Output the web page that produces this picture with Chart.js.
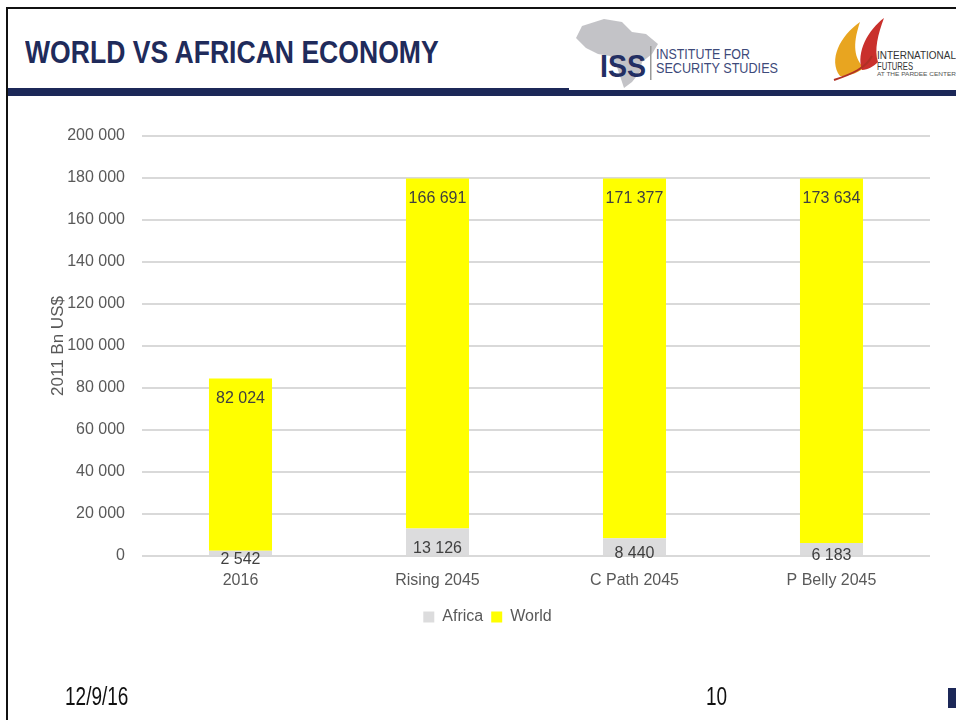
<!DOCTYPE html>
<html lang="en">
<head>
  <meta charset="UTF-8" />
  <title>World vs African Economy</title>
  <script src="https://cdn.jsdelivr.net/npm/chart.js"></script>
  <style>
    html, body { margin: 0; padding: 0; background: #fff; }
    body { width: 956px; height: 720px; position: relative; overflow: hidden;
           font-family: "Liberation Sans", Arial, sans-serif; }
    .border-top { position: absolute; left: 6px; top: 7px; width: 950px; height: 2px; background: #111; }
    .border-left { position: absolute; left: 6px; top: 7px; width: 2px; height: 713px; background: #111; }
    .title { position: absolute; left: 25px; top: 34px; font-size: 32px; font-weight: bold;
             color: #1f2b5b; transform: scaleX(0.83); transform-origin: left top; white-space: nowrap; }
    .bar-a { position: absolute; left: 8px; top: 88px; width: 561px; height: 8px; background: #1c2858; }
    .bar-b { position: absolute; left: 569px; top: 90px; width: 387px; height: 6px; background: #1c2858; }
    .footer-date { position: absolute; left: 65px; top: 682px; font-size: 25px; color: #111;
                   transform: scaleX(0.76); transform-origin: left top; }
    .footer-page { position: absolute; left: 706px; top: 682px; font-size: 25px; color: #111;
                   transform: scaleX(0.76); transform-origin: left top; }
    .corner { position: absolute; left: 948px; top: 688px; width: 8px; height: 20px; background: #1c2858; }
    #logos { position: absolute; left: 570px; top: 10px; }
    #chartBox { position: absolute; left: 0; top: 0; width: 956px; height: 720px; }
  </style>
</head>
<body>

<div class="border-top"></div>
<div class="border-left"></div>
<div class="title">WORLD VS AFRICAN ECONOMY</div>
<div class="bar-a"></div>
<div class="bar-b"></div>

<svg id="logos" width="386" height="78" viewBox="0 0 386 78">
  <!-- rough Africa silhouette -->
  <path d="M12 16 L34 9 L52 12 L62 22 L76 24 L88 34 L82 44 L72 52 L70 62 L62 72 L54 78 L50 66 L46 54 L40 46 L28 44 L16 38 L6 28 Z"
        fill="#b9b9bd" opacity="0.85"/>
  <text x="30" y="67" textLength="46" lengthAdjust="spacingAndGlyphs"
        font-family="Liberation Sans, sans-serif" font-size="32" font-weight="bold" fill="#232f63">ISS</text>
  <rect x="80" y="36" width="1.5" height="34" fill="#9a9a9a"/>
  <text x="86" y="49" textLength="94" lengthAdjust="spacingAndGlyphs"
        font-family="Liberation Sans, sans-serif" font-size="15" fill="#3d4a7a">INSTITUTE FOR</text>
  <text x="86" y="63" textLength="122" lengthAdjust="spacingAndGlyphs"
        font-family="Liberation Sans, sans-serif" font-size="15" fill="#3d4a7a">SECURITY STUDIES</text>
  <!-- International Futures swoosh -->
  <path d="M270 66 C258 50 270 26 290 12 C284 30 282 46 294 58 C286 64 278 66 270 66 Z" fill="#e8a520"/>
  <path d="M292 60 C286 42 298 20 314 8 C308 24 304 40 308 52 C304 56 298 60 292 60 Z" fill="#c9302c"/>
  <path d="M264 70 C282 64 296 58 302 46" stroke="#b03025" stroke-width="2" fill="none"/>
  <text x="307" y="49" textLength="79" lengthAdjust="spacingAndGlyphs"
        font-family="Liberation Sans, sans-serif" font-size="11" fill="#333">INTERNATIONAL</text>
  <text x="307" y="60" textLength="36" lengthAdjust="spacingAndGlyphs"
        font-family="Liberation Sans, sans-serif" font-size="10" fill="#333">FUTURES</text>
  <text x="307" y="66" textLength="79" lengthAdjust="spacingAndGlyphs"
        font-family="Liberation Sans, sans-serif" font-size="5" fill="#555">AT THE PARDEE CENTER</text>
</svg>

<div id="chartBox"><canvas id="economyChart" width="956" height="720"></canvas></div>

<div class="footer-date">12/9/16</div>
<div class="footer-page">10</div>
<div class="corner"></div>

<script>
  // data (2011 Bn US$)
  const scenarios = ["2016", "Rising 2045", "C Path 2045", "P Belly 2045"];
  const africaGdp = [2542, 13126, 8440, 6183];
  const worldGdp = [82024, 166691, 171377, 173634];
  const yTicks = [0, 20000, 40000, 60000, 80000, 100000, 120000, 140000, 160000, 180000, 200000];

  const fontName = '"Liberation Sans", Arial, sans-serif';

  // space as thousands separator, like "166 691"
  function fmt(v) {
    return String(v).replace(/\B(?=(\d{3})+(?!\d))/g, ' ');
  }

  // value labels: Africa near the middle of its piece (never above base - 8), World just under its top
  const barLabels = {
    id: 'barLabels',
    afterDatasetsDraw(chart) {
      const ctx = chart.ctx;
      ctx.save();
      ctx.font = '16px ' + fontName;
      ctx.fillStyle = '#404040';
      ctx.textAlign = 'center';
      ctx.textBaseline = 'middle';
      chart.data.datasets.forEach((ds, di) => {
        chart.getDatasetMeta(di).data.forEach((bar, i) => {
          let y;
          if (di === 0) {
            y = (bar.y + bar.base) / 2 + 7;
          } else {
            y = bar.y + 20;
          }
          ctx.fillText(fmt(ds.data[i]), bar.x, y);
        });
      });
      ctx.restore();
    }
  };

  const ctx = document.getElementById('economyChart').getContext('2d');
  new Chart(ctx, {
    type: 'bar',
    data: {
      labels: scenarios,
      datasets: [
        { label: 'Africa', data: africaGdp, backgroundColor: '#dcdcdd', borderWidth: 0 },
        { label: 'World', data: worldGdp, backgroundColor: '#ffff00', borderWidth: 0 }
      ]
    },
    options: {
      responsive: false,
      animation: false,
      layout: { padding: { left: 45, right: 26, top: 136, bottom: 85 } },
      datasets: { bar: { barPercentage: 0.32, categoryPercentage: 1 } },
      plugins: {
        legend: {
          position: 'bottom',
          labels: {
            boxWidth: 11, boxHeight: 11, padding: 8,
            color: '#595959',
            font: { family: fontName, size: 16 }
          }
        },
        tooltip: { enabled: false }
      },
      scales: {
        x: {
          stacked: true,
          grid: { display: false },
          border: { display: false },
          ticks: { color: '#595959', padding: 7, font: { family: fontName, size: 16 } },
          afterFit(scale) { scale.height = 45; }
        },
        y: {
          stacked: true,
          min: 0,
          max: 200000,
          afterBuildTicks(scale) { scale.ticks = yTicks.map(v => ({ value: v })); },
          grid: { color: '#d9d9d9', lineWidth: 2, drawTicks: false },
          border: { display: false },
          ticks: {
            color: '#595959', padding: 17,
            font: { family: fontName, size: 16 },
            callback: v => fmt(v)
          },
          title: {
            display: true, text: '2011 Bn US$', color: '#595959',
            padding: { top: 3, bottom: 0 },
            font: { family: fontName, size: 17 }
          },
          afterFit(scale) { scale.width = 97; }
        }
      }
    },
    plugins: [barLabels]
  });
</script>
</body>
</html>
